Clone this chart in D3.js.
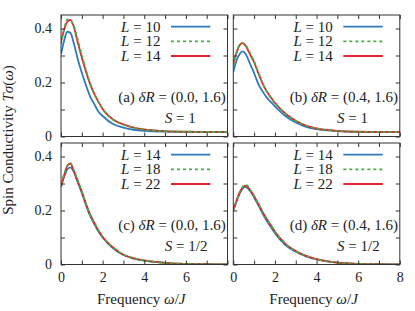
<!DOCTYPE html>
<html>
<head>
<meta charset="utf-8">
<script src="https://cdn.jsdelivr.net/npm/d3@7"></script>
<style>
  body { margin: 0; background: #fff; }
  text { font-family: "Liberation Serif", "Times New Roman", serif; fill: #222; }
</style>
</head>
<body>
<div id="chart"></div>
<script>
const width = 415
const height = 311

// frequency grid (omega / J)
const omega = [0, 0.15, 0.3, 0.45, 0.6, 0.8, 1.0, 1.2, 1.4, 1.6, 1.8, 2.0, 2.5, 3.0, 3.5, 4.0, 5.0, 6.0, 7.0, 8.0]

// (a) S = 1, dR = (0.0, 1.6)
const aL10 = [0.305, 0.355, 0.388, 0.384, 0.350, 0.288, 0.236, 0.190, 0.148, 0.120, 0.092, 0.076, 0.046, 0.033, 0.025, 0.021, 0.018, 0.017, 0.016, 0.016]
const aL12 = [0.342, 0.398, 0.434, 0.430, 0.413, 0.360, 0.302, 0.247, 0.197, 0.158, 0.127, 0.101, 0.062, 0.044, 0.032, 0.025, 0.020, 0.018, 0.017, 0.017]
const aL14 = [0.351, 0.395, 0.425, 0.432, 0.410, 0.350, 0.293, 0.240, 0.194, 0.158, 0.128, 0.102, 0.063, 0.045, 0.033, 0.026, 0.020, 0.018, 0.017, 0.017]
// (b) S = 1, dR = (0.4, 1.6)
const bL10 = [0.239, 0.280, 0.305, 0.315, 0.305, 0.270, 0.235, 0.195, 0.168, 0.145, 0.128, 0.112, 0.076, 0.052, 0.036, 0.027, 0.020, 0.017, 0.016, 0.016]
const bL12 = [0.262, 0.308, 0.338, 0.345, 0.338, 0.310, 0.278, 0.238, 0.198, 0.167, 0.143, 0.123, 0.084, 0.057, 0.040, 0.030, 0.021, 0.018, 0.017, 0.017]
const bL14 = [0.270, 0.310, 0.338, 0.347, 0.335, 0.305, 0.275, 0.235, 0.198, 0.168, 0.145, 0.125, 0.085, 0.058, 0.040, 0.030, 0.021, 0.018, 0.017, 0.017]
// (c) S = 1/2, dR = (0.0, 1.6)
const cL14 = [0.288, 0.325, 0.352, 0.360, 0.345, 0.305, 0.265, 0.220, 0.180, 0.150, 0.122, 0.100, 0.060, 0.035, 0.022, 0.014, 0.006, 0.002, 0.001, 0.0005]
const cL18 = [0.298, 0.335, 0.366, 0.376, 0.352, 0.311, 0.270, 0.225, 0.185, 0.155, 0.126, 0.103, 0.063, 0.036, 0.023, 0.015, 0.006, 0.002, 0.001, 0.0005]
const cL22 = [0.288, 0.330, 0.365, 0.374, 0.350, 0.310, 0.270, 0.225, 0.185, 0.155, 0.126, 0.103, 0.063, 0.036, 0.023, 0.015, 0.006, 0.002, 0.001, 0.0005]
// (d) S = 1/2, dR = (0.4, 1.6)
const dL14 = [0.200, 0.233, 0.262, 0.282, 0.288, 0.273, 0.248, 0.220, 0.190, 0.163, 0.139, 0.116, 0.072, 0.047, 0.030, 0.019, 0.007, 0.002, 0.001, 0.0005]
const dL18 = [0.200, 0.236, 0.267, 0.288, 0.295, 0.279, 0.253, 0.225, 0.196, 0.170, 0.146, 0.122, 0.077, 0.050, 0.032, 0.020, 0.007, 0.002, 0.001, 0.0005]
const dL22 = [0.200, 0.235, 0.265, 0.285, 0.292, 0.277, 0.253, 0.225, 0.196, 0.170, 0.146, 0.122, 0.077, 0.050, 0.032, 0.020, 0.007, 0.002, 0.001, 0.0005]

const sizesS1 = ["10", "12", "14"]
const sizesS12 = ["14", "18", "22"]
const xTicks = [0, 1, 2, 3, 4, 5, 6, 7, 8]
const yTicks = [0, 0.1, 0.2, 0.3, 0.4]
const yLabelTicks = [0, 0.2, 0.4]

const colors = ["#2b7bbf", "#44b044", "#e3262b"]
const dashes = [null, "3,3", null]

const panels = [
  {tag: "(a)", dR: "(0.0, 1.6)", S: "1", sizes: sizesS1, series: [aL10, aL12, aL14], x0: 61, y0: 15, left: true, bottom: false, lastX: true},
  {tag: "(b)", dR: "(0.4, 1.6)", S: "1", sizes: sizesS1, series: [bL10, bL12, bL14], x0: 233.3, y0: 15, left: false, bottom: false, lastX: true},
  {tag: "(c)", dR: "(0.0, 1.6)", S: "1/2", sizes: sizesS12, series: [cL14, cL18, cL22], x0: 61, y0: 143, left: true, bottom: true, lastX: false},
  {tag: "(d)", dR: "(0.4, 1.6)", S: "1/2", sizes: sizesS12, series: [dL14, dL18, dL22], x0: 233.3, y0: 143, left: false, bottom: true, lastX: true}
]
const pw = 166.5
const ph = 121.5

const svg = d3.select("div#chart").append("svg").attr("width", width).attr("height", height)

// writes a run of plain / italic pieces into a text element
function rich(sel, parts) {
  parts.forEach(p => {
    sel.append("tspan").style("font-style", p[1] ? "italic" : "normal").text(p[0])
  })
  return sel
}

const fs = "15px"
const fsTick = "14px"

panels.forEach(p => {
  const x = d3.scaleLinear().domain([0, 8]).range([0, pw])
  const y = d3.scaleLinear().domain([0, 0.45]).range([ph, 0])
  const g = svg.append("g").attr("transform", `translate(${p.x0},${p.y0})`)

  // curves first, frame on top
  const line = d3.line().x((d, i) => x(omega[i])).y(d => y(d)).curve(d3.curveMonotoneX)
  const clip = "clip" + p.tag.replace(/\W/g, "")
  g.append("clipPath").attr("id", clip).append("rect").attr("width", pw).attr("height", ph)
  const order = [0, 2, 1]  // dashed green drawn on top
  order.forEach(k => {
    g.append("path")
      .datum(p.series[k])
      .attr("d", line)
      .attr("clip-path", `url(#${clip})`)
      .attr("fill", "none")
      .attr("stroke", colors[k])
      .attr("stroke-width", 1.8)
      .attr("stroke-dasharray", dashes[k])
  })

  // axes with inward ticks on all four sides
  const yl = d3.axisLeft(y).tickValues(yTicks).tickSize(-4).tickSizeOuter(0).tickPadding(9)
    .tickFormat(d => (p.left && yLabelTicks.some(v => Math.abs(v - d) < 1e-9)) ? d3.format("")(+d.toFixed(1)) : "")
  const yr = d3.axisRight(y).tickValues(yTicks).tickSize(-4).tickSizeOuter(0).tickFormat("")
  const xb = d3.axisBottom(x).tickValues(xTicks).tickSize(-4).tickSizeOuter(0).tickPadding(8)
    .tickFormat(d => (p.bottom && d % 2 === 0 && (p.lastX || d < 8)) ? d : "")
  const xt = d3.axisTop(x).tickValues(xTicks).tickSize(-4).tickSizeOuter(0).tickFormat("")

  const axes = [
    g.append("g").call(yl),
    g.append("g").attr("transform", `translate(${pw},0)`).call(yr),
    g.append("g").attr("transform", `translate(0,${ph})`).call(xb),
    g.append("g").call(xt)
  ]
  axes.forEach(a => {
    a.select(".domain").remove()
    a.selectAll("line").attr("stroke", "#333")
    a.selectAll("text").style("font-size", fsTick).attr("fill", "#222")
  })

  g.append("rect").attr("width", pw).attr("height", ph)
    .attr("fill", "none").attr("stroke", "#333").attr("stroke-width", 1)

  // legend
  const rows = [11.7, 26.3, 41]
  p.sizes.forEach((s, i) => {
    rich(g.append("text").attr("x", 99.4).attr("y", rows[i] + 5)
      .attr("text-anchor", "end").style("font-size", fs), [["L", true], [" = " + s, false]])
    g.append("line").attr("x1", 110).attr("x2", 149.4).attr("y1", rows[i]).attr("y2", rows[i])
      .attr("stroke", colors[i]).attr("stroke-width", 1.8).attr("stroke-dasharray", dashes[i])
  })

  // panel annotations
  rich(g.append("text").attr("x", pw - 1.8).attr("y", 86.5).attr("text-anchor", "end").style("font-size", fs),
    [[p.tag + " ", false], ["δR", true], [" = " + p.dR, false]])
  rich(g.append("text").attr("x", 103.8).attr("y", 107.5).style("font-size", fs),
    [["S", true], [" = " + p.S, false]])

  if (p.bottom) {
    rich(g.append("text").attr("x", pw / 2 - 3).attr("y", 304 - p.y0).attr("text-anchor", "middle").style("font-size", fs),
      [["Frequency ", false], ["ω", true], ["/", false], ["J", true]])
  }
})

// shared y title
rich(svg.append("text").attr("transform", "translate(13,140) rotate(-90)")
  .attr("text-anchor", "middle").style("font-size", fs),
  [["Spin Conductivity ", false], ["Tσ", true], ["(", false], ["ω", true], [")", false]])
</script>
</body>
</html>
